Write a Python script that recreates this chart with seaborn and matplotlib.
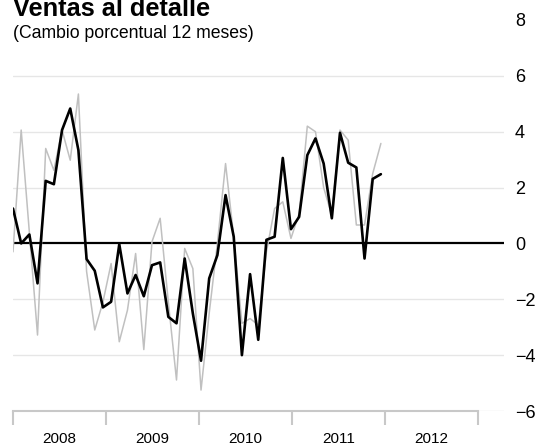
import numpy as np
import pandas as pd
import matplotlib
matplotlib.use("Agg")
import matplotlib.pyplot as plt
import seaborn as sns

# serie destacada (negra) y serie original (gris), cambio % 12 meses
ventas = [1.25, 0.0, 0.32, -1.43, 2.24, 2.12, 4.06, 4.83, 3.34, -0.56,
          -0.98, -2.29, -2.09, -0.03, -1.79, -1.13, -1.89, -0.78, -0.68, -2.63,
          -2.86, -0.54, -2.51, -4.20, -1.25, -0.42, 1.73, 0.24, -4.00, -1.10,
          -3.45, 0.13, 0.24, 3.06, 0.51, 0.95, 3.16, 3.76, 2.86, 0.90,
          3.96, 2.89, 2.72, -0.54, 2.31, 2.48]
ventas_orig = [-0.30, 4.06, 0.40, -3.28, 3.40, 2.62, 4.06, 2.98, 5.35, -1.00,
               -3.10, -2.10, -0.72, -3.52, -2.39, -0.36, -3.80, 0.06, 0.90, -2.10,
               -4.89, -0.18, -0.90, -5.25, -2.50, 0.00, 2.86, 0.24, -2.86, -2.69,
               -2.92, -0.30, 1.25, 1.49, 0.18, 1.07, 4.20, 4.00, 2.00, 1.00,
               4.06, 3.70, 0.66, 0.66, 2.50, 3.58]
years = ["2008", "2009", "2010", "2011", "2012"]
y_ticks = [-6, -4, -2, 0, 2, 4, 6, 8]

pts_per_year = 11.375  # the chart squeezes ~11.4 points into each year slot

df = pd.DataFrame({"t": np.arange(len(ventas)), "ventas": ventas, "orig": ventas_orig})

sns.set_theme(style="white")
plt.rcParams["font.family"] = ["Liberation Sans", "DejaVu Sans"]

fig = plt.figure(figsize=(5.5, 4.47), dpi=100)
ax = fig.add_axes([13 / 550, 1 - 411 / 447, 491 / 550, 391 / 447])

for v in y_ticks:
    if v not in (0, 8):
        ax.axhline(v, color="#e6e6e6", lw=1, zorder=0)
ax.axhline(0, color="black", lw=1.6, zorder=1)

sns.lineplot(data=df, x="t", y="orig", color="#c0c0c0", lw=1.1, ax=ax, zorder=2)
sns.lineplot(data=df, x="t", y="ventas", color="black", lw=1.9, ax=ax, zorder=3)

edges = np.arange(len(years) + 1) * pts_per_year
ax.set_xlim(0, 60.06)
ax.set_ylim(-6, 8)

# eje x: linea gris de 2008 a 2013 con marcas hacia abajo
ax.set_xticks(edges)
ax.set_xticklabels([])
ax.set_xticks(edges[:-1] + pts_per_year / 2, minor=True)
ax.set_xticklabels(years, minor=True, fontsize=11)
ax.tick_params(axis="x", which="major", direction="out", length=10, width=1.5,
               color="#c8c8c8", bottom=True)
ax.tick_params(axis="x", which="minor", length=0, pad=15, labelcolor="black")

ax.yaxis.tick_right()
ax.set_yticks(y_ticks)
ax.set_yticklabels([str(v).replace("-", "\u2212") for v in y_ticks], fontsize=13)
ax.tick_params(axis="y", length=0, pad=8, labelcolor="black")

for s in ["left", "right", "top"]:
    ax.spines[s].set_visible(False)
ax.spines["bottom"].set_bounds(edges[0], edges[-1])
ax.spines["bottom"].set_color("#c8c8c8")
ax.spines["bottom"].set_linewidth(1.5)
ax.set_xlabel("")
ax.set_ylabel("")

fig.text(13 / 550, 1 - 16 / 447, "Ventas al detalle", fontsize=18.3, fontweight="bold",
         va="baseline", ha="left", color="black")
fig.text(13 / 550, 1 - 38 / 447, "(Cambio porcentual 12 meses)", fontsize=12.7,
         va="baseline", ha="left", color="black")

fig.savefig("out.png", dpi=100)
